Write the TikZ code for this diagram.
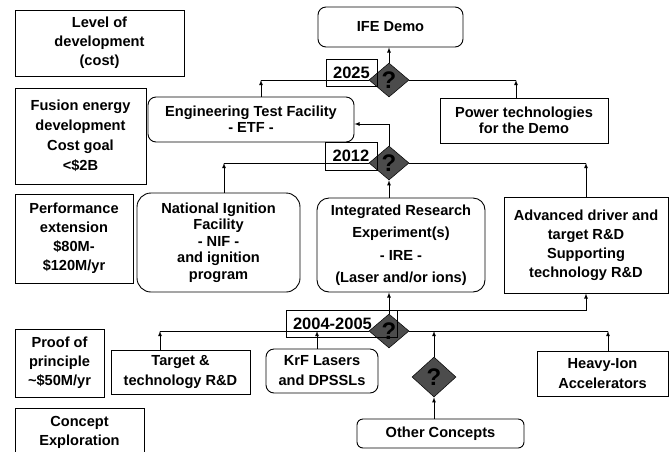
\documentclass[tikz,border=0pt]{standalone}
\usepackage{fontspec}
\setmainfont{Liberation Sans}
\usetikzlibrary{shapes.geometric}
\newcommand{\tfont}[1]{\bfseries\fontsize{14.6}{#1}\selectfont}

\begin{document}
\begin{tikzpicture}[x=1pt,y=-1pt,
    quadro/.style={draw,line width=0.9pt,align=center,inner sep=0pt,font=\tfont{19}},
    tondo/.style={quadro,rounded corners=8pt},
    anno/.style={draw,line width=0.9pt,inner sep=0pt,font=\bfseries\fontsize{16.5}{19}\selectfont},
    rombo/.style={diamond,draw=black,line width=0.5pt,fill=black!70,inner sep=0pt,aspect=1.2,
        minimum width=40pt,minimum height=34pt,font=\bfseries\fontsize{24}{24}\selectfont},
    freccia/.style={-latex,line width=0.8pt},
    linea/.style={line width=0.8pt}]
    \clip (0,0) rectangle (670,451);

    %colonna di sinistra
    \node[quadro,minimum width=169pt,minimum height=66pt] (level) at (99.5,43) {Level of\\development\\(cost)};
    \node[quadro,minimum width=131pt,minimum height=96pt,font=\tfont{20}] (fusion) at (80.5,136) {Fusion energy\\development\\Cost goal\\<\$2B};
    \node[quadro,minimum width=118pt,minimum height=89pt] (perf) at (74,238.5) {Performance\\extension\\\$80M-\\\$120M/yr};
    \node[quadro,minimum width=89pt,minimum height=68pt] (proof) at (59.5,363) {Proof of\\principle\\\textasciitilde\$50M/yr};
    \node[quadro,minimum width=129pt,minimum height=48pt] (concept) at (79.5,432) {Concept\\Exploration};

    %scatole in alto
    \node[tondo,minimum width=145pt,minimum height=40pt] (demo) at (390.5,27) {IFE Demo};
    \node[tondo,minimum width=206pt,minimum height=45pt,font=\tfont{16}] (etf) at (251,119.5) {Engineering Test Facility\\- ETF -};
    \node[quadro,minimum width=168pt,minimum height=45pt,font=\tfont{16}] (power) at (524,120.5) {Power technologies\\for the Demo};

    %scatole in mezzo
    \node[quadro,rounded corners=14pt,minimum width=163pt,minimum height=99pt,font=\tfont{16.5}] (nif) at (218.5,242.5) {National Ignition\\Facility\\- NIF -\\and ignition\\program};
    \node[quadro,rounded corners=12pt,minimum width=168pt,minimum height=94pt,font=\tfont{22.5}] (ire) at (401,245) {Integrated Research\\Experiment(s)\\- IRE -\\(Laser and/or ions)};
    \node[quadro,minimum width=164pt,minimum height=96pt] (adv) at (586,245) {Advanced driver and\\target R\&D\\Supporting\\technology R\&D};

    %scatole in basso
    \node[quadro,minimum width=139pt,minimum height=44pt,font=\tfont{20}] (target) at (180.5,372) {Target \&\\technology R\&D};
    \node[tondo,minimum width=112pt,minimum height=44pt,font=\tfont{20}] (krf) at (322,371) {KrF Lasers\\and DPSSLs};
    \node[quadro,minimum width=131pt,minimum height=45pt,font=\tfont{20}] (heavy) at (602.5,373.5) {Heavy-Ion\\Accelerators};
    \node[tondo,rounded corners=6pt,minimum width=167pt,minimum height=29pt] (other) at (440.5,433.5) {Other Concepts};

    %rombi
    \node[rombo] (d25) at (389,80) {?};
    \node[rombo] (d12) at (389,163) {?};
    \node[rombo] (d04) at (389,331) {?};
    \node[rombo,minimum width=44pt,minimum height=40pt] (dalt) at (434,377) {?};

    %anni
    \node[anno,minimum width=51pt,minimum height=27pt] (y25) at (351.5,72.5) {2025};
    \node[anno,minimum width=52pt,minimum height=28pt] (y12) at (351,156) {2012};
    \node[anno,text width=97pt,inner xsep=7pt,minimum height=27pt,align=left] (y04) at (341.5,323.5) {2004-2005};

    %frecce verso IFE Demo
    \coordinate (a1) at (261,80);
    \coordinate (a2) at (516,80);
    \draw[freccia] (d25.north) -- (d25.north |- demo.south);
    \draw[freccia] (etf.north -| a1) -- (a1);
    \draw[linea] (a1) -- (d25.west);
    \draw[freccia] (power.north -| a2) -- (a2);
    \draw[linea] (d25.east) -- (a2);

    %livello 2012
    \coordinate (b1) at (224,163);
    \coordinate (b2) at (586,163);
    \draw[freccia] (d12.north) |- ([yshift=-4.5pt]etf.east);
    \draw[freccia] (nif.north -| b1) -- (b1);
    \draw[linea] (b1) -- (d12.west);
    \draw[freccia] (adv.north) -- (b2);
    \draw[linea] (d12.east) -- (b2);
    \draw[freccia] (d12.south |- ire.north) -- (d12.south);

    %livello 2004-2005
    \coordinate (c0) at (389,310);
    \coordinate (c1) at (160,331);
    \coordinate (c2) at (317,331);
    \coordinate (c3) at (434,331);
    \coordinate (c4) at (608,331);
    \draw[freccia] (d04.north) -- (d04.north |- ire.south);
    \draw[freccia] (c0) -| (adv.south);
    \draw[freccia] (target.north -| c1) -- (c1);
    \draw[freccia] (krf.north -| c2) -- (c2);
    \draw[freccia] (dalt.north) -- (c3);
    \draw[freccia] (heavy.north -| c4) -- (c4);
    \draw[linea] (c1) -- (d04.west);
    \draw[linea] (d04.east) -- (c4);
    \draw[freccia] (other.north -| dalt.south) -- (dalt.south);
\end{tikzpicture}
\end{document}
